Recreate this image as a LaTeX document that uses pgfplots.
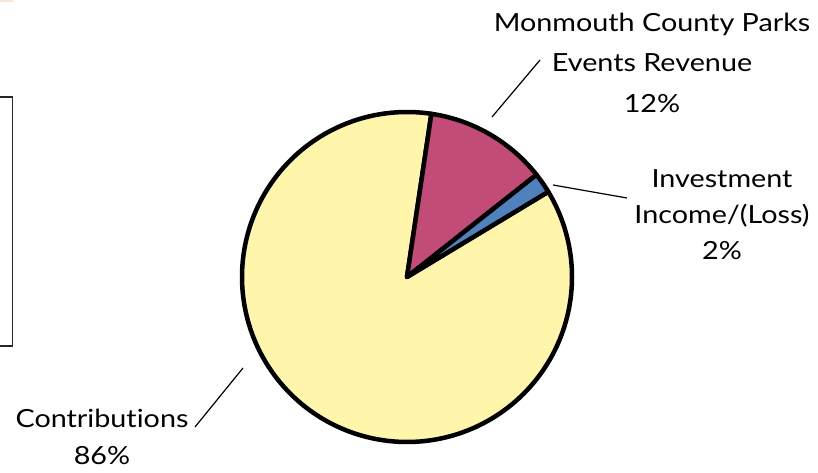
\documentclass[border=0pt]{standalone}
\usepackage{pgfplots}
\pgfplotsset{compat=1.18}
\usepackage{pgfplotstable}
\usepackage{fontspec}
\setmainfont{Lato}[Ligatures={NoCommon}, FakeStretch=1.15]
\definecolor{pieyellow}{HTML}{FFF6AC}
\definecolor{piemagenta}{HTML}{C24C77}
\definecolor{pieblue}{HTML}{4F81BD}
\definecolor{peach}{HTML}{FCE4D6}
\tikzset{lbl/.style={font=\fontsize{25}{30}\selectfont, anchor=base, inner sep=0pt}}
\pgfplotstableread{
label value
Monmouth 12
Investment 2
Contributions 86
}\piedata
\pgfplotstablegetelem{0}{value}\of\piedata \let\va\pgfplotsretval
\pgfplotstablegetelem{1}{value}\of\piedata \let\vb\pgfplotsretval
\pgfplotstablegetelem{2}{value}\of\piedata \let\vc\pgfplotsretval
\pgfmathsetmacro{\aStart}{81.5}
\pgfmathsetmacro{\aA}{\aStart-3.6*\va}
\pgfmathsetmacro{\aB}{\aA-3.6*\vb}
\pgfmathsetmacro{\aC}{\aB-3.6*\vc}
\def\cx{407}
\def\cy{196}
\def\rr{165}
\begin{document}
\begin{tikzpicture}
\begin{axis}[
  at={(0,0)}, anchor=origin,
  x=1pt, y=1pt,
  xmin=0, xmax=818, ymin=0, ymax=473,
  hide axis,
  clip=true,
]
% partial frame at left
\addplot[draw=black!85, line width=1.8pt] coordinates {(-10,376) (12.5,376) (12.5,127) (-10,127)};
% peach strip at top-left
\addplot[draw=none, fill=peach] coordinates {(0,473) (13,473) (13,470.5) (0,470.5)} -- cycle;
% pie wedges
\addplot[fill=pieyellow, draw=black, line width=4.5pt, line join=round, domain=\aC:\aB, samples=200, variable=\t]
  ({\cx+\rr*cos(\t)},{\cy+\rr*sin(\t)}) -- (axis cs:\cx,\cy) -- cycle;
\addplot[fill=piemagenta, draw=black, line width=4.5pt, line join=round, domain=\aA:\aStart, samples=40, variable=\t]
  ({\cx+\rr*cos(\t)},{\cy+\rr*sin(\t)}) -- (axis cs:\cx,\cy) -- cycle;
\addplot[fill=pieblue, draw=black, line width=4.5pt, line join=round, domain=\aB:\aA, samples=10, variable=\t]
  ({\cx+\rr*cos(\t)},{\cy+\rr*sin(\t)}) -- (axis cs:\cx,\cy) -- cycle;
% leader lines
\addplot[black, line width=1.2pt] coordinates {(492,356) (540,413)};
\addplot[black, line width=1.2pt] coordinates {(553,288) (627,275)};
\addplot[black, line width=1.2pt] coordinates {(195,46) (243,105)};
% labels
\node[lbl] at (axis cs:652,441) {Monmouth County Parks};
\node[lbl] at (axis cs:652,401) {Events Revenue};
\node[lbl] at (axis cs:652,360) {12\%};
\node[lbl] at (axis cs:722,285) {Investment};
\node[lbl] at (axis cs:722,249) {Income/(Loss)};
\node[lbl] at (axis cs:722,213) {2\%};
\node[lbl] at (axis cs:102,45) {Contributions};
\node[lbl] at (axis cs:102,8) {86\%};
\end{axis}
\pgfresetboundingbox
\path[use as bounding box] (0,0) rectangle (818pt,473pt);
\end{tikzpicture}
\end{document}
